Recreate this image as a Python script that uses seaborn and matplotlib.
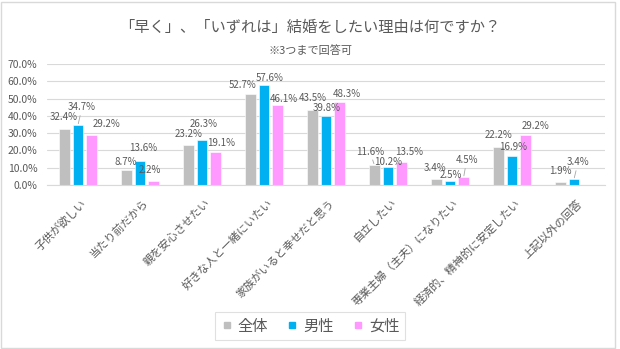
import matplotlib
matplotlib.use("Agg")
import matplotlib.pyplot as plt
from matplotlib.lines import Line2D
from matplotlib.patches import Rectangle
from matplotlib.ticker import PercentFormatter, MultipleLocator
import matplotlib.transforms as mtransforms
import seaborn as sns
import pandas as pd

# ---- data ----
reasons = ["子供が欲しい", "当たり前だから", "親を安心させたい", "好きな人と一緒にいたい",
           "家族がいると幸せだと思う", "自立したい", "専業主婦（主夫）になりたい",
           "経済的、精神的に安定したい", "上記以外の回答"]
groups = ["全体", "男性", "女性"]
zentai = [32.4, 8.7, 23.2, 52.7, 43.5, 11.6, 3.4, 22.2, 1.9]
dansei = [34.7, 13.6, 26.3, 57.6, 39.8, 10.2, 2.5, 16.9, 3.4]
josei = [29.2, 2.2, 19.1, 46.1, 48.3, 13.5, 4.5, 29.2, 0.0]
title = "「早く」、「いずれは」結婚をしたい理由は何ですか？"
subtitle = "※3つまで回答可"

colors = ["#BFBFBF", "#00B0F0", "#FF99FF"]

# label offsets in pixels (dx, dy) and leader-line flags (style only)
offsets = [
    [(-0.5, 12), (-1, 8.3), (0.5, 11), (-8, 9), (0, 12), (-4.5, 13.3), (-1, 11.4), (0, 11.6), (0, 10.7)],
    [(4, 17.7), (3, 13), (2, 16), (6, 7.7), (1, 8.5), (0, 5.7), (1, 5.2), (1, 9), (4, 16.7)],
    [(14.5, 11), (-4, 11), (5.5, 8.7), (6.5, 6), (7.5, 8), (7.5, 10), (3, 17), (9.5, 8.5), (0, 0)],
]
leaders = {(1, 0), (0, 5), (2, 6), (1, 8)}

df = pd.DataFrame({
    "reason": reasons * 3,
    "group": sum([[g] * len(reasons) for g in groups], []),
    "pct": zentai + dansei + josei,
})

sns.set_theme(style="white")
plt.rcParams["font.family"] = ["Noto Sans CJK JP", "DejaVu Sans"]

W, H = 620, 349
fig = plt.figure(figsize=(W / 100, H / 100), dpi=100)
fig.patch.set_facecolor("white")
ax = fig.add_axes([47 / W, 1 - 185 / H, (605 - 47) / W, (185 - 64) / H])

sns.barplot(data=df, x="reason", y="pct", hue="group", hue_order=groups,
            palette=colors, width=0.66, gap=0.23, ax=ax, legend=False,
            edgecolor="white", linewidth=0.4, saturation=1)

ax.set_ylim(0, 70)
ax.set_xlim(-0.5, len(reasons) - 0.5)
ax.yaxis.set_major_locator(MultipleLocator(10))
ax.yaxis.set_major_formatter(PercentFormatter(xmax=100, decimals=1))
ax.grid(axis="y", color="#D9D9D9", linewidth=0.8)
ax.set_axisbelow(True)
for s in ["top", "right", "left"]:
    ax.spines[s].set_visible(False)
ax.spines["bottom"].set_color("#D9D9D9")
ax.spines["bottom"].set_linewidth(0.8)
ax.set_xlabel("")
ax.set_ylabel("")
ax.tick_params(axis="both", length=0, colors="#595959", labelsize=7.5)
ax.tick_params(axis="y", pad=7)
ax.tick_params(axis="x", pad=9)
shift = mtransforms.ScaledTranslation(3 / 100, 0, fig.dpi_scale_trans)
for lab in ax.get_xticklabels():
    lab.set_rotation(45)
    lab.set_ha("right")
    lab.set_rotation_mode("anchor")
    lab.set_fontsize(8)
    lab.set_transform(lab.get_transform() + shift)

# data labels
for si, cont in enumerate(ax.containers):
    vals = [zentai, dansei, josei][si]
    for ci, (bar, v) in enumerate(zip(cont.patches, vals)):
        if v == 0:
            continue
        x = bar.get_x() + bar.get_width() / 2
        dx, dy = offsets[si][ci]
        kw = {}
        if (si, ci) in leaders:
            kw["arrowprops"] = dict(arrowstyle="-", color="#A6A6A6", lw=0.6,
                                    shrinkA=0, shrinkB=1)
        ax.annotate(f"{v:.1f}%", xy=(x, v), xytext=(dx, dy),
                    textcoords="offset pixels", ha="center", va="center",
                    fontsize=7, color="#595959", **kw)

# titles
fig.text(310 / W, 1 - 27.5 / H, title, ha="center", va="center",
         fontsize=11, color="#595959")
fig.text(310 / W, 1 - 50.5 / H, subtitle, ha="center", va="center",
         fontsize=8, color="#595959")

# legend
handles = [Line2D([], [], marker="s", linestyle="none", markersize=5,
                  markerfacecolor=c, markeredgecolor=c) for c in colors]
leg = fig.legend(handles, groups, loc="center", bbox_to_anchor=(310 / W, 1 - 326 / H),
                 ncol=3, fontsize=11, frameon=True, fancybox=False,
                 handlelength=0.8, handletextpad=0.3, columnspacing=1.2,
                 borderpad=0.35, borderaxespad=0)
leg.get_frame().set_edgecolor("#D9D9D9")
leg.get_frame().set_linewidth(0.8)
for t in leg.get_texts():
    t.set_color("#595959")

# outer border
fig.add_artist(Rectangle((1 / W, 1 / H), 614 / W, 346 / H, transform=fig.transFigure,
                         fill=False, edgecolor="#D9D9D9", linewidth=1))

fig.savefig("out.png", dpi=100)
